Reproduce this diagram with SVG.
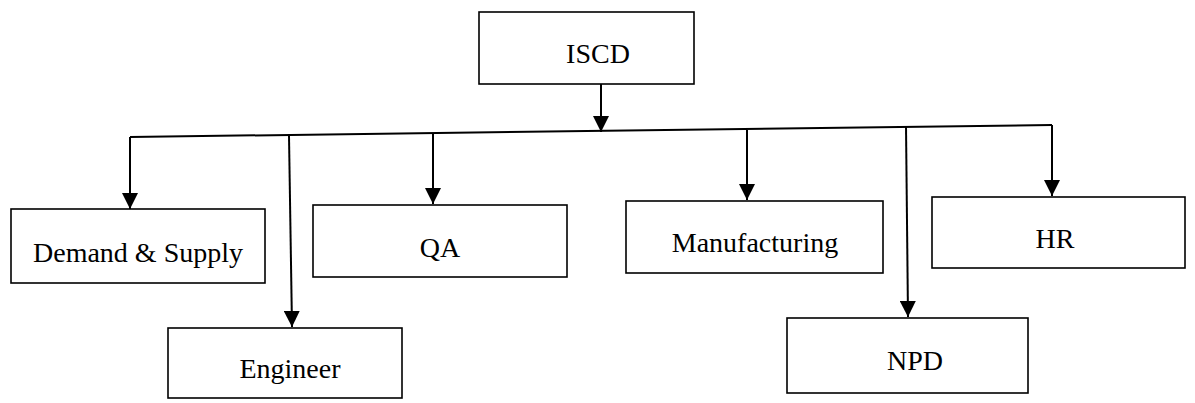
<svg xmlns="http://www.w3.org/2000/svg" width="1195" height="403" viewBox="0 0 1195 403">
<style>
.box{fill:#fff;stroke:#000;stroke-width:1.6}
.lbl{font-family:"Liberation Serif","Times New Roman",serif;font-size:28px;fill:#000;text-anchor:middle}
.ln{fill:none;stroke:#000;stroke-width:2}
</style>
<defs>
<marker id="ah" markerUnits="userSpaceOnUse" markerWidth="16" markerHeight="16" viewBox="0 0 14 14" refX="14" refY="7" orient="auto">
<path d="M0,0 L14,7 L0,14 Z" fill="#000"/>
</marker>
</defs>
<rect width="1195" height="403" fill="#fff"/>
<g id="connectors">
<line class="ln" x1="130" y1="137" x2="1052" y2="125"/>
<line class="ln" x1="601" y1="84" x2="601" y2="132" marker-end="url(#ah)"/>
<line class="ln" x1="130" y1="137" x2="130" y2="209" marker-end="url(#ah)"/>
<line class="ln" x1="289" y1="136" x2="292" y2="327" marker-end="url(#ah)"/>
<line class="ln" x1="433" y1="134" x2="433" y2="204" marker-end="url(#ah)"/>
<line class="ln" x1="747" y1="130" x2="747" y2="200" marker-end="url(#ah)"/>
<line class="ln" x1="906" y1="126" x2="908" y2="317" marker-end="url(#ah)"/>
<line class="ln" x1="1052" y1="125" x2="1052" y2="196" marker-end="url(#ah)"/>
</g>
<g id="iscd">
<rect class="box" x="479" y="12" width="215" height="72"/>
<text class="lbl" x="598" y="63">ISCD</text>
</g>
<g id="demand">
<rect class="box" x="11" y="209" width="254" height="74"/>
<text class="lbl" x="138" y="262">Demand &amp; Supply</text>
</g>
<g id="engineer">
<rect class="box" x="168" y="328" width="234" height="70"/>
<text class="lbl" x="290" y="378">Engineer</text>
</g>
<g id="qa">
<rect class="box" x="313" y="205" width="254" height="72"/>
<text class="lbl" x="440" y="257">QA</text>
</g>
<g id="manufacturing">
<rect class="box" x="626" y="201" width="257" height="72"/>
<text class="lbl" x="755" y="252">Manufacturing</text>
</g>
<g id="npd">
<rect class="box" x="787" y="318" width="241" height="75"/>
<text class="lbl" x="915" y="370">NPD</text>
</g>
<g id="hr">
<rect class="box" x="932" y="197" width="253" height="71"/>
<text class="lbl" x="1055" y="248">HR</text>
</g>
</svg>
